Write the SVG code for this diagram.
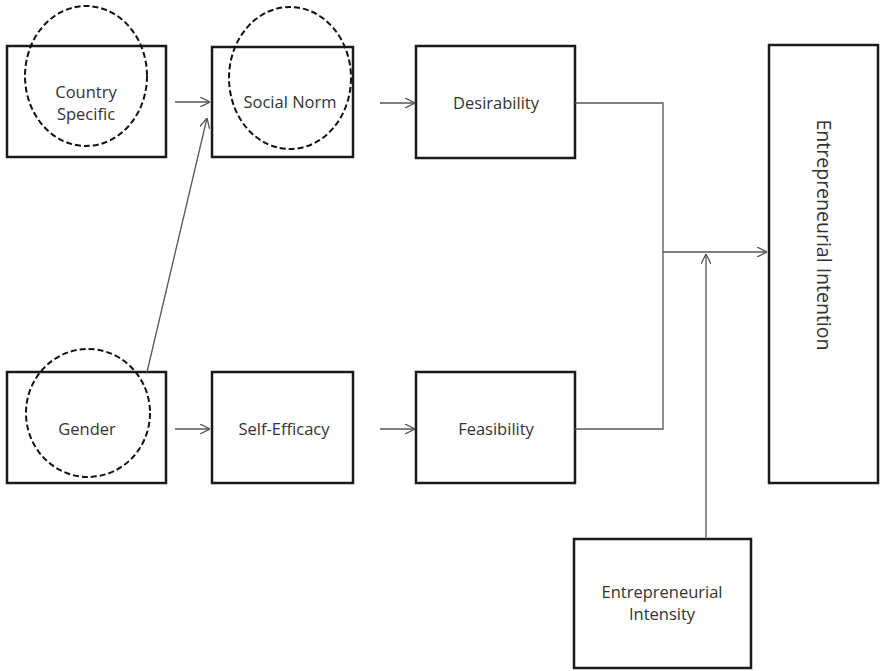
<svg xmlns="http://www.w3.org/2000/svg" width="880" height="671" viewBox="0 0 880 671">
<style>
.box{fill:#fff;stroke:#1a1a1a;stroke-width:2.5}
.ell{fill:none;stroke:#111;stroke-width:2;stroke-dasharray:6,3}
.t{font-family:"Open Sans","Liberation Sans",sans-serif;font-size:16.5px;fill:#333;text-anchor:middle}
.big{font-size:19.5px}
.c{fill:none;stroke:#555;stroke-width:1.3}
</style>
<defs>
<marker id="a" viewBox="0 0 10 10" refX="10" refY="5" markerWidth="10" markerHeight="10" markerUnits="userSpaceOnUse" orient="auto">
<path d="M0,0 L10,5 L0,10" fill="none" stroke="#555" stroke-width="1.3"/>
</marker>
</defs>
<rect width="880" height="671" fill="#fff"/>
<g id="country"><rect class="box" x="7" y="46" width="159" height="111"/><text class="t" x="86" y="98">Country</text><text class="t" x="86" y="120">Specific</text></g>
<g id="socialnorm"><rect class="box" x="212" y="47" width="141" height="110"/><text class="t" x="290" y="108">Social Norm</text></g>
<g id="desirability"><rect class="box" x="416" y="46" width="159" height="112"/><text class="t" x="496" y="109">Desirability</text></g>
<g id="gender"><rect class="box" x="7" y="372" width="159" height="111"/><text class="t" x="87" y="435">Gender</text></g>
<g id="selfefficacy"><rect class="box" x="212" y="372" width="141" height="111"/><text class="t" x="284" y="435">Self-Efficacy</text></g>
<g id="feasibility"><rect class="box" x="416" y="372" width="159" height="111"/><text class="t" x="496" y="435">Feasibility</text></g>
<g id="intention"><rect class="box" x="769" y="45" width="109" height="438"/><text class="t big" transform="translate(817,235) rotate(90)">Entrepreneurial Intention</text></g>
<g id="intensity"><rect class="box" x="574" y="539" width="177" height="129"/><text class="t" x="662" y="598">Entrepreneurial</text><text class="t" x="662" y="620">Intensity</text></g>
<g id="ellipses">
<ellipse class="ell" cx="86" cy="76" rx="61" ry="70"/>
<ellipse class="ell" cx="290" cy="78" rx="61" ry="71"/>
<ellipse class="ell" cx="88" cy="413" rx="62" ry="64"/>
</g>
<g id="connectors">
<line class="c" x1="175" y1="102" x2="210" y2="102" marker-end="url(#a)"/>
<line class="c" x1="380" y1="103" x2="415" y2="103" marker-end="url(#a)"/>
<line class="c" x1="175" y1="429" x2="210" y2="429" marker-end="url(#a)"/>
<line class="c" x1="380" y1="429" x2="415" y2="429" marker-end="url(#a)"/>
<line class="c" x1="147" y1="372" x2="207" y2="118" marker-end="url(#a)"/>
<polyline class="c" points="575,103 663,103 663,429 575,429"/>
<line class="c" x1="663" y1="252" x2="767" y2="252" marker-end="url(#a)"/>
<line class="c" x1="706" y1="539" x2="706" y2="254" marker-end="url(#a)"/>
</g>
</svg>
